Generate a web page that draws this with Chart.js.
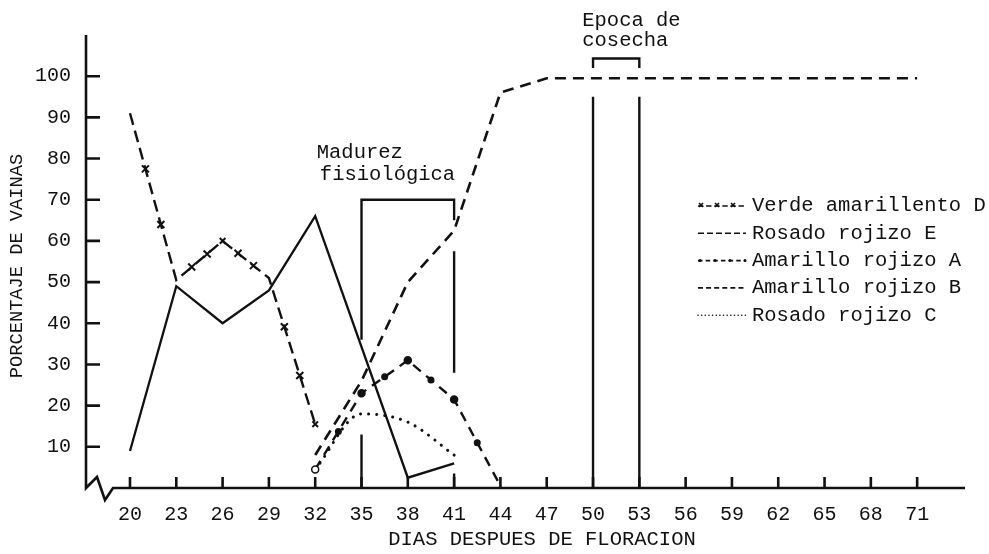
<!DOCTYPE html>
<html lang="es">
<head>
<meta charset="UTF-8">
<title>Porcentaje de vainas por color</title>
<script src="https://cdn.jsdelivr.net/npm/chart.js"></script>
<style>
    body { margin: 0; background: #fff; }
    canvas { display: block; }
</style>
</head>
<body>
<canvas id="grafico" width="989" height="554"></canvas>
<script>
// ticks de los ejes
const xTicks = [20, 23, 26, 29, 32, 35, 38, 41, 44, 47, 50, 53, 56, 59, 62, 65, 68, 71];
const yTicks = [10, 20, 30, 40, 50, 60, 70, 80, 90, 100];

// series (dias despues de floracion -> % de vainas)
const diasD = [20, 23, 26, 29, 32];
const verdeD = [91, 50.5, 60, 51, 15.5];

const diasE = [20, 23, 26, 29, 32, 38, 41];
const rosadoE = [9, 49, 40, 48, 66, 2.5, 6];

const diasA = [32, 35, 38, 41, 44];
const amarilloA = [4.5, 23, 31, 21.5, 0.5];

const diasB = [32, 35, 38, 41, 44, 47, 50, 53, 56, 59, 62, 65, 68, 71];
const amarilloB = [8, 26, 50, 62.5, 96, 99.5, 99.5, 99.5, 99.5, 99.5, 99.5, 99.5, 99.5, 99.5];

const diasC = [32, 35, 38, 41];
const rosadoC = [4.5, 18, 16, 8];

// marcas de madurez y cosecha
const madurez = [35, 41];
const cosecha = [50, 53];

const ink = '#111';
const fuente = '"Liberation Mono", "Courier New", monospace';
Chart.defaults.font.family = fuente;
Chart.defaults.color = ink;

const xy = (xs, ys) => xs.map((x, i) => ({ x: x, y: ys[i] }));

const datasets = [
    {
        label: 'Verde amarillento D', data: xy(diasD, verdeD),
        borderColor: ink, borderWidth: 2.4, borderDash: [12, 6],
        pointStyle: 'crossRot', pointRadius: [0, 0, 4, 0, 4],
        pointBorderColor: ink, pointBorderWidth: 2, marcas: 'cruz'
    },
    {
        label: 'Rosado rojizo E', data: xy(diasE, rosadoE),
        borderColor: ink, borderWidth: 2.3, pointRadius: 0
    },
    {
        label: 'Amarillo rojizo A', data: xy(diasA, amarilloA),
        borderColor: ink, borderWidth: 2.4, borderDash: [10, 7],
        pointStyle: 'circle', pointRadius: [3.5, 3.5, 3.5, 3.5, 0],
        pointBackgroundColor: ['#fff', ink, ink, ink, ink],
        pointBorderColor: ink, pointBorderWidth: 1.5, marcas: 'punto'
    },
    {
        label: 'Amarillo rojizo B', data: xy(diasB, amarilloB),
        borderColor: ink, borderWidth: 2.6, borderDash: [11, 7], pointRadius: 0
    },
    {
        label: 'Rosado rojizo C', data: xy(diasC, rosadoC),
        borderColor: ink, borderWidth: 3, borderDash: [0.1, 8], borderCapStyle: 'round',
        cubicInterpolationMode: 'monotone', pointRadius: 0
    }
];

function cruz(ctx, x, y, r) {
    ctx.beginPath();
    ctx.moveTo(x - r, y - r); ctx.lineTo(x + r, y + r);
    ctx.moveTo(x + r, y - r); ctx.lineTo(x - r, y + r);
    ctx.stroke();
}

const decoracion = {
    id: 'decoracion',
    afterDatasetsDraw(chart) {
        const { ctx } = chart;
        ctx.save();
        ctx.strokeStyle = ink; ctx.fillStyle = ink; ctx.lineWidth = 2;
        chart.data.datasets.forEach((ds, i) => {
            if (!ds.marcas) return;
            const pts = chart.getDatasetMeta(i).data;
            for (let k = 0; k < pts.length - 1; k++) {
                const a = pts[k], b = pts[k + 1];
                const fr = ds.marcas === 'cruz' ? [1 / 3, 2 / 3] : [0.5];
                fr.forEach(t => {
                    const mx = a.x + (b.x - a.x) * t, my = a.y + (b.y - a.y) * t;
                    if (ds.marcas === 'cruz') cruz(ctx, mx, my, 3.5);
                    else { ctx.beginPath(); ctx.arc(mx, my, 3.5, 0, Math.PI * 2); ctx.fill(); }
                });
            }
        });
        ctx.restore();
    },
    afterDraw(chart) {
        const { ctx, scales: { x, y } } = chart;
        const px = v => x.getPixelForValue(v), py = v => y.getPixelForValue(v);
        const x0 = x.left, y0 = y.bottom;
        ctx.save();
        ctx.strokeStyle = ink; ctx.fillStyle = ink; ctx.lineWidth = 2.6;

        // ejes con corte
        ctx.beginPath();
        ctx.moveTo(x0, y.top); ctx.lineTo(x0, y0);
        ctx.lineTo(x0 + 11, y0 - 11); ctx.lineTo(x0 + 19, y0 + 12); ctx.lineTo(x0 + 27, y0);
        ctx.lineTo(x.right, y0);
        xTicks.forEach(v => { ctx.moveTo(px(v), y0); ctx.lineTo(px(v), y0 - 11); });
        yTicks.forEach(v => { ctx.moveTo(x0, py(v)); ctx.lineTo(x0 + 14, py(v)); });
        ctx.stroke();

        // madurez fisiologica
        ctx.lineWidth = 2.4;
        ctx.beginPath();
        ctx.moveTo(px(madurez[0]), py(36)); ctx.lineTo(px(madurez[0]), py(70));
        ctx.lineTo(px(madurez[1]), py(70)); ctx.lineTo(px(madurez[1]), py(65));
        ctx.moveTo(px(madurez[0]), py(13)); ctx.lineTo(px(madurez[0]), py(0));
        ctx.moveTo(px(madurez[1]), py(57.5)); ctx.lineTo(px(madurez[1]), py(28));
        ctx.moveTo(px(madurez[1]), py(3.5)); ctx.lineTo(px(madurez[1]), py(0));
        // epoca de cosecha
        cosecha.forEach(v => { ctx.moveTo(px(v), py(95)); ctx.lineTo(px(v), py(0)); });
        ctx.moveTo(px(cosecha[0]), py(102)); ctx.lineTo(px(cosecha[0]), py(104.3));
        ctx.lineTo(px(cosecha[1]), py(104.3)); ctx.lineTo(px(cosecha[1]), py(102));
        ctx.stroke();

        // textos
        ctx.font = '20.5px ' + fuente;
        ctx.textBaseline = 'middle'; ctx.textAlign = 'left';
        ctx.fillText('Madurez', px(32.1), py(81.5));
        ctx.fillText('fisiológica', px(32.3), py(76));
        ctx.fillText('Epoca de', px(49.3), py(113.5));
        ctx.fillText('cosecha', px(49.3), py(108.7));

        ctx.textAlign = 'center';
        ctx.fillText('DIAS DESPUES DE FLORACION', 542, 540);
        ctx.save();
        ctx.font = '18.7px ' + fuente;
        ctx.translate(17.5, 266); ctx.rotate(-Math.PI / 2);
        ctx.fillText('PORCENTAJE DE VAINAS', 0, 0);
        ctx.restore();

        // leyenda
        ctx.textAlign = 'left';
        chart.data.datasets.forEach((ds, i) => {
            const ly = 206 + i * 27.3;
            ctx.save();
            ctx.lineWidth = 1.6;
            ctx.setLineDash(ds.borderDash ? ds.borderDash.map(d => d * 0.45) : [6, 3]);
            if (ds.borderCapStyle) ctx.lineCap = ds.borderCapStyle;
            ctx.beginPath(); ctx.moveTo(698, ly); ctx.lineTo(746, ly); ctx.stroke();
            ctx.setLineDash([]);
            if (ds.marcas === 'cruz') [701, 717, 733].forEach(cx => cruz(ctx, cx, ly - 1, 2));
            if (ds.marcas === 'punto') [700, 715, 730, 745].forEach(cx => { ctx.beginPath(); ctx.arc(cx, ly, 1.5, 0, Math.PI * 2); ctx.fill(); });
            ctx.restore();
            ctx.fillText(ds.label, 752, ly);
        });
        ctx.restore();
    }
};

new Chart(document.getElementById('grafico'), {
    type: 'line',
    data: { datasets: datasets },
    options: {
        responsive: false,
        animation: false,
        layout: { padding: { top: 35, right: 24, left: 0, bottom: 0 } },
        plugins: { legend: { display: false }, tooltip: { enabled: false } },
        scales: {
            x: {
                type: 'linear', min: 17.15, max: 74.1,
                afterBuildTicks: s => { s.ticks = xTicks.map(v => ({ value: v })); },
                afterFit: s => { s.height = 66; },
                grid: { display: false, drawTicks: false }, border: { display: false },
                ticks: { padding: 15, font: { size: 20 }, maxRotation: 0, autoSkip: false }
            },
            y: {
                min: 0, max: 110,
                afterBuildTicks: s => { s.ticks = yTicks.map(v => ({ value: v })); },
                afterFit: s => { s.width = 86; },
                grid: { display: false, drawTicks: false }, border: { display: false },
                ticks: { padding: 15, font: { size: 20 } }
            }
        }
    },
    plugins: [decoracion]
});
</script>
</body>
</html>
